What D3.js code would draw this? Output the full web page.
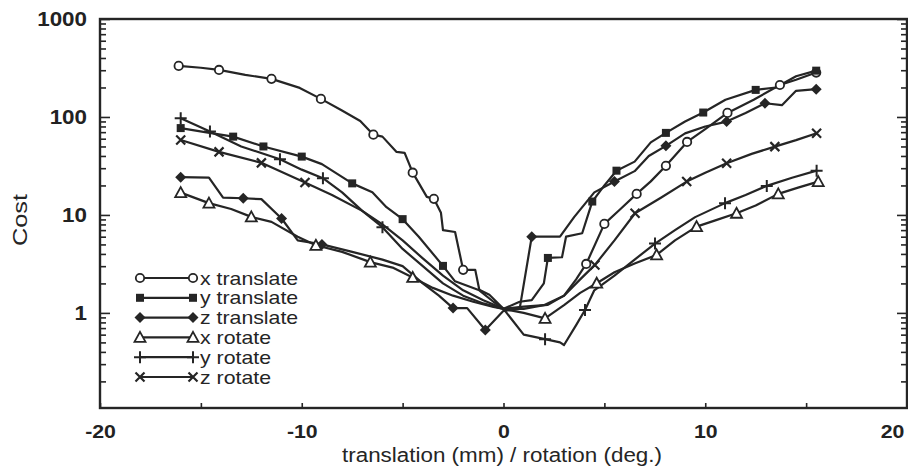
<!DOCTYPE html>
<html>
<head>
<meta charset="utf-8">
<script src="https://cdn.jsdelivr.net/npm/d3@7"></script>
<style>
  body { margin: 0; background: #fff; }
  svg { display: block; font-family: "Liberation Sans", Arial, sans-serif; }
  .tick text { fill: #222; }
</style>
</head>
<body>
<script>
// x translate (open circles)
const xtX = [-16.1, -15.0, -14.1, -12.8, -11.5, -10.1, -9.05, -8.05, -7.1, -6.45, -6.0, -5.3, -4.9, -4.5, -3.8, -3.45, -3.1, -3.0, -2.4, -2.0, -1.4, -1.2, -0.7, -0.2, 0.0, 1.0, 2.2, 3.0, 3.6, 4.1, 5.0, 5.8, 6.6, 7.3, 8.05, 9.1, 10.0, 11.1, 12.4, 13.7, 14.5, 15.5];
const xtY = [332, 318, 302, 269, 245, 198, 153, 118, 91, 66, 63, 44, 43, 27, 15.3, 14.6, 10.5, 7.0, 6.7, 2.75, 2.75, 1.72, 1.53, 1.21, 1.1, 1.16, 1.21, 1.5, 2.2, 3.16, 8.1, 11.5, 16.4, 22, 31.7, 55.6, 75, 110, 150, 212, 240, 284];
const xtMarks = [0, 2, 4, 6, 9, 13, 15, 19, 29, 30, 32, 34, 35, 37, 39, 41];

// y translate (filled squares)
const ytX = [-16.0, -14.8, -13.4, -11.9, -10.0, -9.0, -7.5, -6.5, -5.8, -5.0, -4.2, -3.0, -2.4, -1.2, -0.5, 0.0, 0.8, 1.4, 2.0, 2.2, 2.9, 3.1, 3.9, 4.4, 5.0, 5.6, 6.5, 7.3, 8.05, 9.0, 9.9, 11.0, 12.5, 13.5, 14.5, 15.5];
const ytY = [77, 70, 63, 50, 39.4, 33, 21, 17, 12, 9.06, 6, 3.02, 2.1, 1.7, 1.3, 1.1, 1.3, 1.35, 2.0, 3.64, 3.7, 6.0, 6.5, 13.7, 20, 28.3, 35, 55, 68.8, 90, 111, 150, 189, 200, 260, 297];
const ytMarks = [0, 2, 3, 4, 6, 9, 11, 19, 23, 25, 28, 30, 32, 35];

// z translate (filled diamonds)
const ztX = [-16.0, -14.6, -13.9, -12.9, -12.0, -11.0, -10.2, -9.0, -7.5, -6.0, -5.0, -4.0, -3.2, -2.5, -1.8, -0.9, 0.0, 0.8, 1.4, 2.8, 3.5, 4.5, 5.5, 6.5, 7.2, 8.05, 9.0, 10.0, 11.06, 12.0, 12.96, 13.8, 14.5, 15.5];
const ztY = [24.3, 24, 15, 14.8, 14.5, 9.2, 5.5, 5.0, 4.2, 3.5, 3.0, 2.0, 1.5, 1.12, 1.12, 0.67, 1.05, 1.1, 6.0, 6.0, 9.5, 17, 21.9, 28, 40, 50.7, 68, 80, 89.7, 110, 138, 132, 185, 192];
const ztMarks = [0, 3, 5, 7, 13, 15, 18, 22, 25, 28, 30, 33];

// x rotate (open triangles)
const xrX = [-16.0, -14.6, -13.5, -12.5, -11.5, -10.2, -9.3, -8.0, -6.6, -5.5, -4.5, -3.5, -2.5, -1.5, -0.5, 0.0, 1.0, 2.06, 3.0, 3.8, 4.62, 5.5, 6.5, 7.59, 8.5, 9.57, 10.5, 11.55, 12.5, 13.62, 14.6, 15.6];
const xrY = [16.9, 13.2, 11.5, 9.55, 8.5, 6.0, 4.9, 4.2, 3.3, 2.9, 2.3, 1.8, 1.5, 1.3, 1.15, 1.1, 1.0, 0.88, 1.2, 1.6, 2.01, 2.6, 3.2, 3.91, 5.5, 7.6, 8.8, 10.4, 12.5, 16.4, 19, 21.9];
const xrMarks = [0, 1, 3, 6, 8, 10, 17, 20, 23, 25, 27, 29, 31];

// y rotate (plus)
const yrX = [-16.0, -14.55, -13.0, -11.08, -10.0, -8.95, -8.0, -7.0, -6.0, -5.0, -4.0, -3.0, -2.0, -1.0, 0.0, 1.0, 2.06, 2.8, 3.0, 3.6, 4.04, 4.5, 5.5, 6.5, 7.51, 8.5, 9.5, 10.98, 12.0, 13.05, 14.3, 15.52];
const yrY = [97, 71, 50, 37, 29, 23.7, 17, 11, 7.5, 4.5, 3.0, 2.0, 1.5, 1.25, 1.1, 0.6, 0.54, 0.5, 0.47, 0.75, 1.07, 1.7, 2.4, 3.5, 5.1, 7, 9.5, 13.2, 16, 19.8, 24, 28.3];
const yrMarks = [0, 1, 3, 5, 8, 16, 20, 24, 27, 29, 31];

// z rotate (cross)
const zrX = [-16.0, -14.1, -12.0, -9.84, -8.5, -7.0, -6.0, -5.0, -4.0, -3.0, -2.0, -1.0, 0.0, 1.0, 2.0, 3.0, 3.8, 4.53, 5.5, 6.52, 7.8, 9.08, 10.0, 11.06, 12.3, 13.45, 14.5, 15.52];
const zrY = [58.3, 44, 34, 21.4, 16, 11, 8, 5.5, 3.6, 2.4, 1.7, 1.35, 1.1, 1.1, 1.2, 1.5, 2.2, 3.09, 5.5, 10.4, 15, 21.9, 27, 33.7, 42, 49.8, 58, 68.3];
const zrMarks = [0, 1, 2, 3, 17, 19, 21, 23, 25, 27];

const seriesNames = ["x translate", "y translate", "z translate", "x rotate", "y rotate", "z rotate"];
const xTicks = [-20, -15, -10, -5, 0, 5, 10, 15, 20];
const yMajor = [1, 10, 100, 1000];

const width = 908, height = 466;
const ink = "#252525";
const stretch = 1.12; // the scanned type is a little wider than Liberation Sans

function widen(sel) {
  sel.each(function() {
    const w = this.getComputedTextLength();
    d3.select(this).attr("textLength", w * stretch).attr("lengthAdjust", "spacingAndGlyphs");
  });
}

const svg = d3.select("body").append("svg")
  .attr("width", width)
  .attr("height", height);

svg.append("rect").attr("width", width).attr("height", height).attr("fill", "#fff");

const x = d3.scaleLinear().domain([-20, 20]).range([100, 907]);
const y = d3.scaleLog().domain([0.107, 1000]).range([408, 19]);

// minor log ticks
const yMinor = [];
[0.1, 1, 10, 100].forEach(function(dec) {
  for (let k = 2; k <= 9; k++) {
    const v = dec * k;
    if (v > y.domain()[0]) yMinor.push(v);
  }
});

// left axis
svg.append("g")
  .attr("transform", "translate(" + x.range()[0] + ",0)")
  .call(d3.axisLeft(y).tickValues(yMinor).tickSize(-6).tickFormat(""))
  .call(g => g.select(".domain").remove());
svg.append("g")
  .attr("transform", "translate(" + x.range()[0] + ",0)")
  .call(d3.axisLeft(y).tickValues(yMajor).tickSize(-10).tickPadding(13).tickFormat(d3.format("d")))
  .call(g => g.select(".domain").remove())
  .selectAll("text")
  .attr("font-size", 20)
  .attr("font-weight", "bold")
  .attr("font-family", "Liberation Sans, Arial, sans-serif")
  .call(widen);

// right axis
svg.append("g")
  .attr("transform", "translate(" + x.range()[1] + ",0)")
  .call(d3.axisRight(y).tickValues(yMinor).tickSize(-6).tickFormat(""))
  .call(g => g.select(".domain").remove());
svg.append("g")
  .attr("transform", "translate(" + x.range()[1] + ",0)")
  .call(d3.axisRight(y).tickValues(yMajor).tickSize(-10).tickFormat(""))
  .call(g => g.select(".domain").remove());

// bottom axis
const xAxisG = svg.append("g")
  .attr("transform", "translate(0," + y.range()[0] + ")")
  .call(d3.axisBottom(x).tickValues(xTicks).tickSize(-5).tickPadding(17)
    .tickFormat(d => d % 10 === 0 ? d : ""))
  .call(g => g.select(".domain").remove());
xAxisG.selectAll("text")
  .attr("font-size", 19)
  .attr("font-weight", "bold")
  .attr("font-family", "Liberation Sans, Arial, sans-serif")
  .attr("dx", d => d === 20 ? -15 : 0)
  .call(widen);

svg.selectAll(".tick line").attr("stroke", ink).attr("stroke-width", 1.6);

// frame
svg.append("rect")
  .attr("x", x.range()[0]).attr("y", y.range()[1])
  .attr("width", x.range()[1] - x.range()[0])
  .attr("height", y.range()[0] - y.range()[1])
  .attr("fill", "none")
  .attr("stroke", ink)
  .attr("stroke-width", 2.4);

// axis titles
svg.append("text")
  .attr("transform", "translate(27,220) rotate(-90)")
  .attr("text-anchor", "middle")
  .attr("font-size", 20)
  .attr("textLength", 52)
  .attr("lengthAdjust", "spacingAndGlyphs")
  .attr("fill", ink)
  .text("Cost");

svg.append("text")
  .attr("x", 502).attr("y", 462)
  .attr("text-anchor", "middle")
  .attr("font-size", 20)
  .attr("textLength", 320)
  .attr("lengthAdjust", "spacingAndGlyphs")
  .attr("fill", ink)
  .text("translation (mm) / rotation (deg.)");

// markers
const sym = {
  circle: g => g.append("circle").attr("r", 4.2).attr("fill", "#fff").attr("stroke", ink).attr("stroke-width", 1.8),
  square: g => g.append("rect").attr("x", -4).attr("y", -4).attr("width", 8).attr("height", 8).attr("fill", ink),
  diamond: g => g.append("path").attr("d", "M0,-5.5L5.5,0L0,5.5L-5.5,0Z").attr("fill", ink),
  triangle: g => g.append("path").attr("d", "M0,-5.5L5.5,4.5L-5.5,4.5Z").attr("fill", "#fff").attr("stroke", ink).attr("stroke-width", 1.8),
  plus: g => g.append("path").attr("d", "M-6,0H6M0,-6V6").attr("stroke", ink).attr("stroke-width", 2),
  cross: g => g.append("path").attr("d", "M-4.5,-4.5L4.5,4.5M-4.5,4.5L4.5,-4.5").attr("stroke", ink).attr("stroke-width", 2.2)
};

const series = [
  { xs: xtX, ys: xtY, marks: xtMarks, shape: "circle" },
  { xs: ytX, ys: ytY, marks: ytMarks, shape: "square" },
  { xs: ztX, ys: ztY, marks: ztMarks, shape: "diamond" },
  { xs: xrX, ys: xrY, marks: xrMarks, shape: "triangle" },
  { xs: yrX, ys: yrY, marks: yrMarks, shape: "plus" },
  { xs: zrX, ys: zrY, marks: zrMarks, shape: "cross" }
];

const line = d3.line().x(d => x(d[0])).y(d => y(d[1]));

series.forEach(function(s) {
  const pts = s.xs.map((v, i) => [v, s.ys[i]]);
  svg.append("path")
    .datum(pts)
    .attr("d", line)
    .attr("fill", "none")
    .attr("stroke", ink)
    .attr("stroke-width", 2.2)
    .attr("stroke-linejoin", "round");
});

series.forEach(function(s) {
  s.marks.forEach(function(i) {
    const g = svg.append("g").attr("transform", "translate(" + x(s.xs[i]) + "," + y(s.ys[i]) + ")");
    sym[s.shape](g);
  });
});

// legend
const leg = svg.append("g").attr("transform", "translate(140,278)");
seriesNames.forEach(function(name, i) {
  const row = leg.append("g").attr("transform", "translate(0," + (i * 19.8) + ")");
  row.append("line").attr("x1", 0).attr("x2", 53).attr("stroke", ink).attr("stroke-width", 2.2);
  [0, 53].forEach(function(px) {
    sym[series[i].shape](row.append("g").attr("transform", "translate(" + px + ",0)"));
  });
  row.append("text")
    .attr("x", 60).attr("y", 0).attr("dy", "0.35em")
    .attr("font-size", 19)
    .attr("fill", ink)
    .text(name)
    .call(widen);
});
</script>
</body>
</html>
